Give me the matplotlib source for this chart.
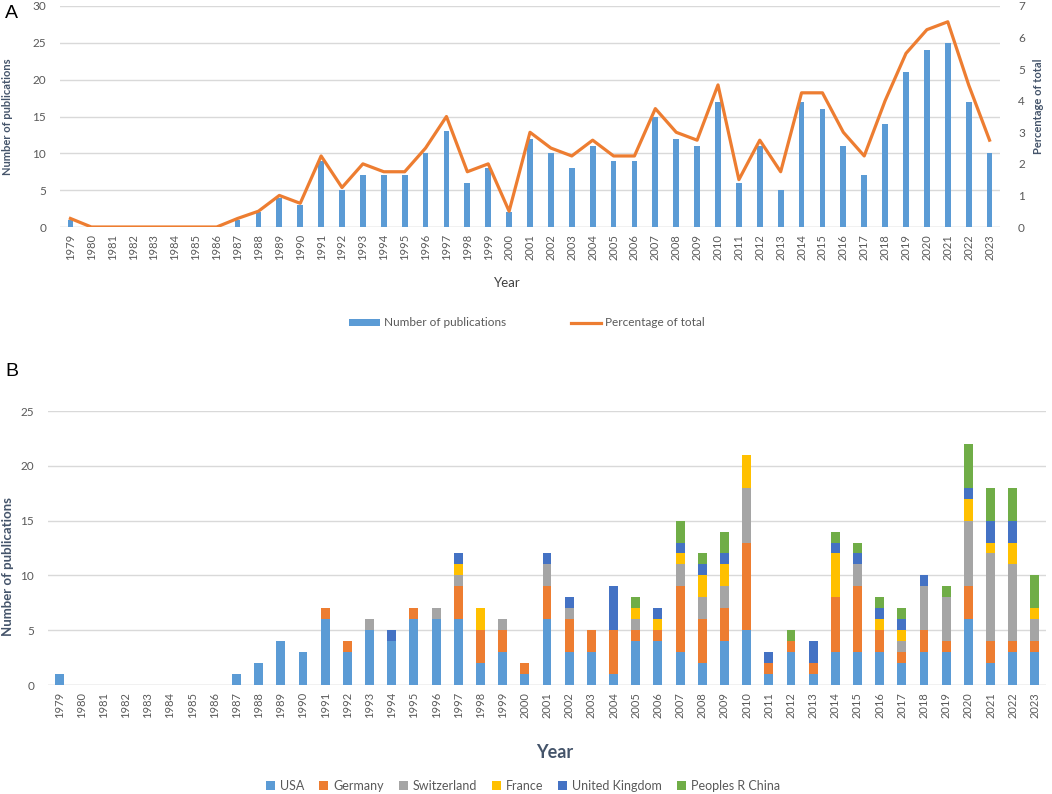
import numpy as np
import matplotlib.pyplot as plt
from matplotlib.patches import Patch
from matplotlib.lines import Line2D

years = [str(y) for y in range(1979, 2024)]

# panel A
n_pubs = [1, 0, 0, 0, 0, 0, 0, 0, 1, 2, 4, 3, 9, 5, 7, 7, 7, 10, 13, 6, 8, 2,
          12, 10, 8, 11, 9, 9, 15, 12, 11, 17, 6, 11, 5, 17, 16, 11, 7, 14,
          21, 24, 25, 17, 10]
pct_total = [0.27, 0, 0, 0, 0, 0, 0, 0, 0.27, 0.5, 1.0, 0.75, 2.25, 1.25, 2.0,
             1.75, 1.75, 2.5, 3.5, 1.75, 2.0, 0.5, 3.0, 2.5, 2.25, 2.75, 2.25,
             2.25, 3.75, 3.0, 2.75, 4.5, 1.5, 2.75, 1.75, 4.25, 4.25, 3.0, 2.25,
             4.0, 5.5, 6.25, 6.5, 4.5, 2.75]

# panel B, by country
usa = [1, 0, 0, 0, 0, 0, 0, 0, 1, 2, 4, 3, 6, 3, 5, 4, 6, 6, 6, 2, 3, 1,
       6, 3, 3, 1, 4, 4, 3, 2, 4, 5, 1, 3, 1, 3, 3, 3, 2, 3, 3, 6, 2, 3, 3]
germany = [0, 0, 0, 0, 0, 0, 0, 0, 0, 0, 0, 0, 1, 1, 0, 0, 1, 0, 3, 3, 2, 1,
           3, 3, 2, 4, 1, 1, 6, 4, 3, 8, 1, 1, 1, 5, 6, 2, 1, 2, 1, 3, 2, 1, 1]
switzerland = [0, 0, 0, 0, 0, 0, 0, 0, 0, 0, 0, 0, 0, 0, 1, 0, 0, 1, 1, 0, 1, 0,
               2, 1, 0, 0, 1, 0, 2, 2, 2, 5, 0, 0, 0, 0, 2, 0, 1, 4, 4, 6, 8, 7, 2]
france = [0, 0, 0, 0, 0, 0, 0, 0, 0, 0, 0, 0, 0, 0, 0, 0, 0, 0, 1, 2, 0, 0,
          0, 0, 0, 0, 1, 1, 1, 2, 2, 3, 0, 0, 0, 4, 0, 1, 1, 0, 0, 2, 1, 2, 1]
uk = [0, 0, 0, 0, 0, 0, 0, 0, 0, 0, 0, 0, 0, 0, 0, 1, 0, 0, 1, 0, 0, 0,
      1, 1, 0, 4, 0, 1, 1, 1, 1, 0, 1, 0, 2, 1, 1, 1, 1, 1, 0, 1, 2, 2, 0]
china = [0, 0, 0, 0, 0, 0, 0, 0, 0, 0, 0, 0, 0, 0, 0, 0, 0, 0, 0, 0, 0, 0,
         0, 0, 0, 0, 1, 0, 2, 1, 2, 0, 0, 1, 0, 1, 1, 1, 1, 0, 1, 4, 3, 3, 3]

countries = ["USA", "Germany", "Switzerland", "France", "United Kingdom", "Peoples R China"]
country_vals = [usa, germany, switzerland, france, uk, china]
country_cols = ["#5B9BD5", "#ED7D31", "#A5A5A5", "#FFC000", "#4472C4", "#70AD47"]

plt.rcParams["font.family"] = ["Lato", "DejaVu Sans"]
tick_col = "#595959"
grid_col = "#D9D9D9"
lab_col = "#44546A"

fig = plt.figure(figsize=(10.52, 7.94), dpi=100)
W, H = 1052, 794

x = np.arange(len(years))

# ---------- A ----------
axA = fig.add_axes([60 / W, 1 - 227 / H, 940 / W, 221 / H])
axA.bar(x, n_pubs, width=0.28, color="#5B9BD5", zorder=2)
axA.set_xlim(-0.5, len(years) - 0.5)
axA.set_ylim(0, 30)
axA.set_yticks(range(0, 31, 5))
axA.yaxis.grid(True, color=grid_col, lw=1, zorder=0)
axA.set_axisbelow(True)
axA.set_xticks(x)
axA.set_xticklabels(years, rotation=90, fontsize=8, color=tick_col)
axA.tick_params(axis="y", labelsize=8.5, labelcolor=tick_col, length=0, pad=10)
axA.tick_params(axis="x", length=0, pad=5)
for s in axA.spines.values():
    s.set_visible(False)
axA.axhline(0, color=grid_col, lw=1, zorder=1)

axA2 = axA.twinx()
axA2.plot(x, pct_total, color="#ED7D31", lw=2.3, zorder=3)
axA2.set_ylim(0, 7)
axA2.set_yticks(range(0, 8))
axA2.tick_params(axis="y", labelsize=8.5, labelcolor=tick_col, length=0, pad=13)
for s in axA2.spines.values():
    s.set_visible(False)

fig.text(8 / W, 1 - 117 / H, "Number of publications", rotation=90, ha="center",
         va="center", fontsize=8, fontweight="bold", color=lab_col)
fig.text(1039 / W, 1 - 106 / H, "Percentage of total", rotation=90, ha="center",
         va="center", fontsize=8, fontweight="bold", color=lab_col)
fig.text(507 / W, 1 - 283 / H, "Year", ha="center", va="center", fontsize=9.5,
         color="#404040")
fig.text(5 / W, 1 - 13 / H, "A", ha="left", va="center", fontsize=14,
         family="Liberation Sans")

handlesA = [Patch(facecolor="#5B9BD5", label="Number of publications"),
            Line2D([0], [0], color="#ED7D31", lw=2.3, label="Percentage of total")]
legA = fig.legend(handles=handlesA, loc="center", bbox_to_anchor=(527 / W, 1 - 323 / H),
                  ncol=2, frameon=False, fontsize=8.5, handlelength=2.6,
                  handleheight=0.5, columnspacing=5.5, handletextpad=0.3)
for t in legA.get_texts():
    t.set_color(tick_col)

# ---------- B ----------
axB = fig.add_axes([48 / W, 1 - 685 / H, 998 / W, 274 / H])
bottom = np.zeros(len(years))
for name, vals, col in zip(countries, country_vals, country_cols):
    axB.bar(x, vals, bottom=bottom, width=0.4, color=col, label=name, zorder=2)
    bottom += np.array(vals)
axB.set_xlim(-0.5, len(years) - 0.5)
axB.set_ylim(0, 25)
axB.set_yticks(range(0, 26, 5))
axB.yaxis.grid(True, color=grid_col, lw=1, zorder=0)
axB.set_axisbelow(True)
axB.set_xticks(x)
axB.set_xticklabels(years, rotation=90, fontsize=8, color=tick_col)
axB.tick_params(axis="y", labelsize=8.5, labelcolor=tick_col, length=0, pad=10)
axB.tick_params(axis="x", length=0, pad=5)
for s in axB.spines.values():
    s.set_visible(False)
axB.axhline(0, color=grid_col, lw=1, zorder=1)

fig.text(8 / W, 1 - 567 / H, "Number of publications", rotation=90, ha="center",
         va="center", fontsize=9.5, fontweight="bold", color=lab_col)
fig.text(555 / W, 1 - 752 / H, "Year", ha="center", va="center", fontsize=13,
         fontweight="bold", color=lab_col)
fig.text(5 / W, 1 - 371 / H, "B", ha="left", va="center", fontsize=14,
         family="Liberation Sans")

legB = fig.legend(handles=[Patch(facecolor=c, label=n) for n, c in zip(countries, country_cols)],
                  loc="center", bbox_to_anchor=(523 / W, 1 - 786 / H), ncol=6,
                  frameon=False, fontsize=9, handlelength=0.7, handleheight=0.7,
                  columnspacing=1.2, handletextpad=0.4)
for t in legB.get_texts():
    t.set_color(tick_col)

fig.savefig("out.png", dpi=100)
